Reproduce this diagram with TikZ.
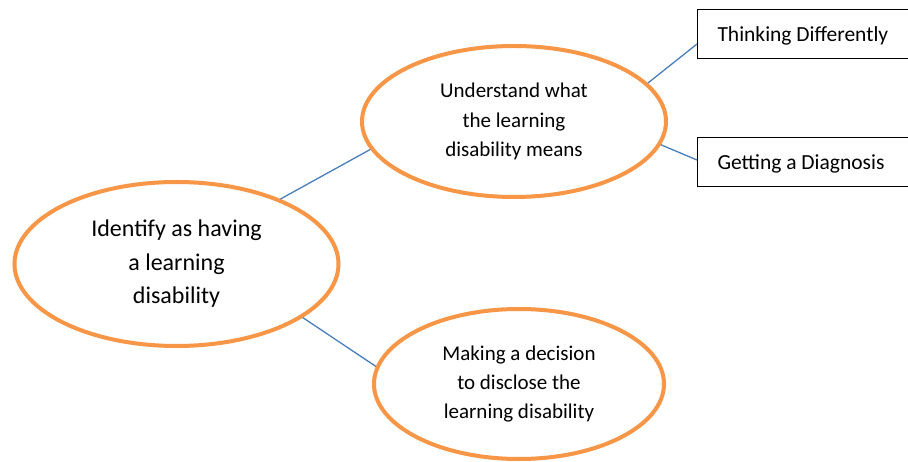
\documentclass[tikz,border=0pt]{standalone}
\usepackage{fontspec}
\setmainfont{Carlito}
\usetikzlibrary{shapes.geometric,calc}
\definecolor{ovalorange}{HTML}{F79646}
\definecolor{linkblue}{HTML}{4A7EBB}
\tikzset{
  oval/.style={ellipse, draw=ovalorange, line width=4, inner sep=0, align=center, text=black},
  bigtext/.style={font={\fontsize{24}{33.5}\selectfont}},
  midtext/.style={font={\fontsize{21}{29.3}\selectfont}},
  labelbox/.style={draw=black, line width=1, anchor=west, minimum height=49, minimum width=215,
    inner xsep=20, inner ysep=0, text width=175, align=flush left, text height=16, text depth=1,
    font={\fontsize{21.5}{25}\selectfont}},
  conn/.style={draw=linkblue, line width=1.3}
}
\begin{document}
\begin{tikzpicture}[x=1pt,y=-1pt]
\clip (0,0) rectangle (908,462);
\fill[white] (0,0) rectangle (908,462);
\node[oval, bigtext, minimum width=324, minimum height=164] (e1) at (176.5,264) {Identify as having\\a learning\\disability};
\node[oval, midtext, minimum width=304, minimum height=151] (e2) at (514,121.5) {Understand what\\the learning\\disability means};
\node[oval, midtext, minimum width=290, minimum height=150] (e3) at (519,384) {Making a decision\\to disclose the\\learning disability};
\node[labelbox] (b1) at (697,34.5) {Thinking Differently};
\node[labelbox] (b2) at (697,162) {Getting a Diagnosis};
\draw[conn] (e1.32) -- (e2.191.8);
\draw[conn] (e1.-23.6) -- (e3.173.3);
\draw[conn] (e2.16.6) -- ($(b1.west)+(0,9.5)$);
\draw[conn] (e2.-9.4) -- ($(b2.west)+(0,-2)$);
\end{tikzpicture}
\end{document}
